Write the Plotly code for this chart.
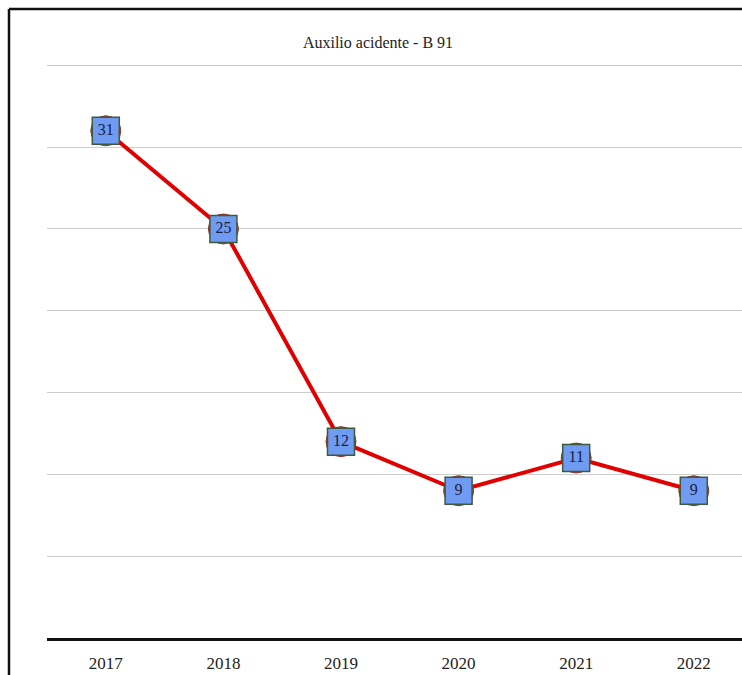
import plotly.graph_objects as go

years = ["2017", "2018", "2019", "2020", "2021", "2022"]
values = [31, 25, 12, 9, 11, 9]
title_text = "Auxilio acidente - B 91"

W, H = 742, 675
SERIF = "Times New Roman"

fig = go.Figure()
fig.add_trace(go.Scatter(
    x=years, y=values, mode="lines",
    line=dict(color="#e00000", width=4), hoverinfo="skip", showlegend=False))
fig.add_trace(go.Scatter(
    x=years, y=values, mode="markers",
    marker=dict(symbol="circle", size=30, color="#c0392b",
                line=dict(color="#8a3a2a", width=1)),
    hoverinfo="skip", showlegend=False))
fig.add_trace(go.Scatter(
    x=years, y=values, mode="markers+text",
    text=[str(v) for v in values], textposition="middle center",
    textfont=dict(family=SERIF, size=16, color="#1a2040"),
    marker=dict(symbol="square", size=27, color="#6f9cf2",
                line=dict(color="#3d5a3c", width=1.5)),
    showlegend=False))

fig.update_layout(
    width=W, height=H,
    margin=dict(l=47, r=0, t=49, b=37),
    paper_bgcolor="white", plot_bgcolor="white",
    font=dict(family=SERIF),
    title=dict(text=title_text, x=378 / W, xanchor="center",
               y=1 - 42 / H, yanchor="middle", yref="container",
               font=dict(family=SERIF, size=16, color="#222222")),
    xaxis=dict(type="category", range=[-0.5, 5.41],
               showgrid=False, zeroline=False,
               showline=True, linecolor="#111111", linewidth=3,
               ticks="", ticklabelstandoff=8,
               tickfont=dict(family=SERIF, size=17, color="#222222")),
    yaxis=dict(range=[0, 36], tickvals=[5, 10, 15, 20, 25, 30, 35],
               showticklabels=False,
               showgrid=True, gridcolor="#cccccc", gridwidth=1,
               zeroline=False, showline=False, ticks=""),
    shapes=[
        dict(type="line", xref="paper", yref="paper",
             x0=-38 / (W - 47), x1=1.1, y0=1 + 40 / (H - 86), y1=1 + 40 / (H - 86),
             line=dict(color="#111111", width=2.5)),
        dict(type="line", xref="paper", yref="paper",
             x0=-38 / (W - 47), x1=-38 / (W - 47), y0=-0.2, y1=1 + 40 / (H - 86),
             line=dict(color="#111111", width=2.5)),
    ],
)

fig.write_html("out.html")
